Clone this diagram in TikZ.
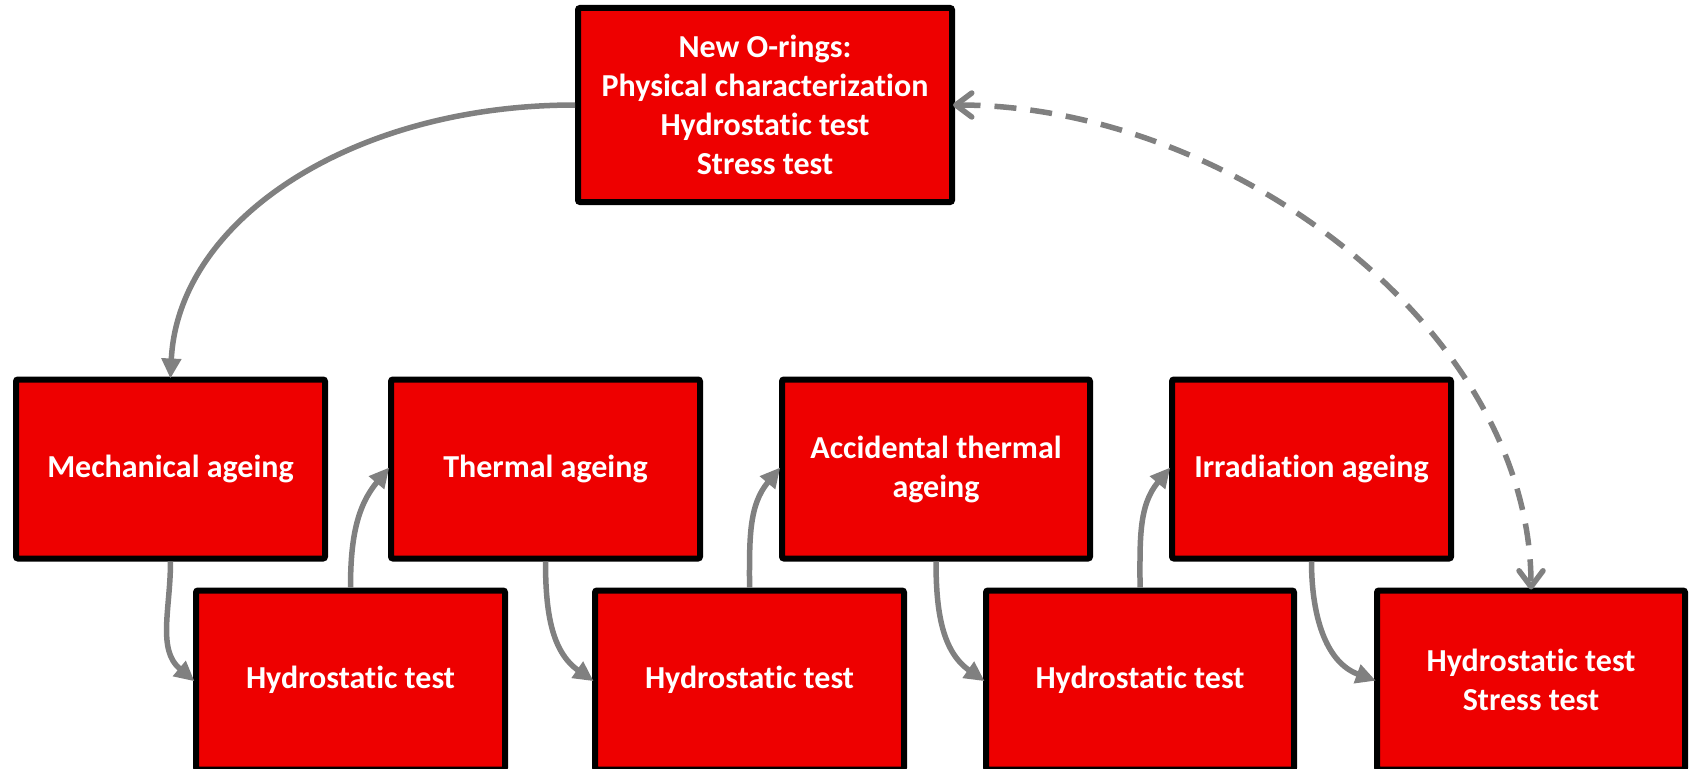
\documentclass[tikz,border=0pt]{standalone}
\usepackage{fontspec}
\setmainfont{Carlito}[Ligatures=NoCommon]
\usetikzlibrary{arrows.meta}
\definecolor{boxred}{HTML}{EE0000}
\definecolor{linkgray}{HTML}{808080}
\tikzset{
  stage/.style={draw=black, line width=6pt, fill=boxred, rounded corners=2pt,
    inner sep=0pt, minimum height=179pt, text=white, align=center,
    font=\fontsize{32}{39}\selectfont\bfseries},
  link/.style={draw=linkgray, line width=5.5pt,
    -{Triangle[length=20pt,width=19pt]}, shorten >=-2pt},
  backlink/.style={draw=linkgray, line width=5.5pt, dash pattern=on 22pt off 14pt,
    {Straight Barb[length=16pt,width=24pt,line width=5.5pt,round]}-{Straight Barb[length=16pt,width=24pt,line width=5.5pt,round]},
    shorten <=-2pt, shorten >=-2pt}
}
\begin{document}
\begin{tikzpicture}[x=1pt,y=1pt]
\useasboundingbox (0,0) rectangle (1691,-768);
\clip (0,0) rectangle (1691,-768);
% upper box
\node[stage, minimum width=374pt, minimum height=194pt] (new) at (765,-105)
  {New O-rings:\\Physical characterization\\Hydrostatic test\\Stress test};
% ageing steps
\node[stage, minimum width=309pt] (mech)  at (170.5,-469) {Mechanical ageing};
\node[stage, minimum width=309pt] (therm) at (545.5,-469) {Thermal ageing};
\node[stage, minimum width=308pt] (acc)   at (936,-469)   {Accidental thermal\\ageing};
\node[stage, minimum width=279pt] (irr)   at (1311.5,-469) {Irradiation ageing};
% tests
\node[stage, minimum width=309pt] (h1) at (350.5,-680) {Hydrostatic test};
\node[stage, minimum width=309pt] (h2) at (749.5,-680) {Hydrostatic test};
\node[stage, minimum width=308pt] (h3) at (1140,-680)  {Hydrostatic test};
\node[stage, minimum width=308pt] (h4) at (1531,-680)  {Hydrostatic test\\Stress test};
% connectors
\draw[link] (new.west) .. controls (352,-105) and (178,-220) .. (mech.north);
\draw[backlink] (new.east) .. controls (1230,-105) and (1531,-330) .. (h4.north);
\draw[link] (mech.south) to[out=-90,in=140] (h1.west);
\draw[link] (h1.north)   to[out=90,in=-130] (therm.west);
\draw[link] (therm.south) to[out=-90,in=145] (h2.west);
\draw[link] (h2.north)   to[out=90,in=-130] (acc.west);
\draw[link] (acc.south)  to[out=-90,in=145] (h3.west);
\draw[link] (h3.north)   to[out=90,in=-130] (irr.west);
\draw[link] (irr.south)  to[out=-90,in=160] (h4.west);
\end{tikzpicture}
\end{document}
